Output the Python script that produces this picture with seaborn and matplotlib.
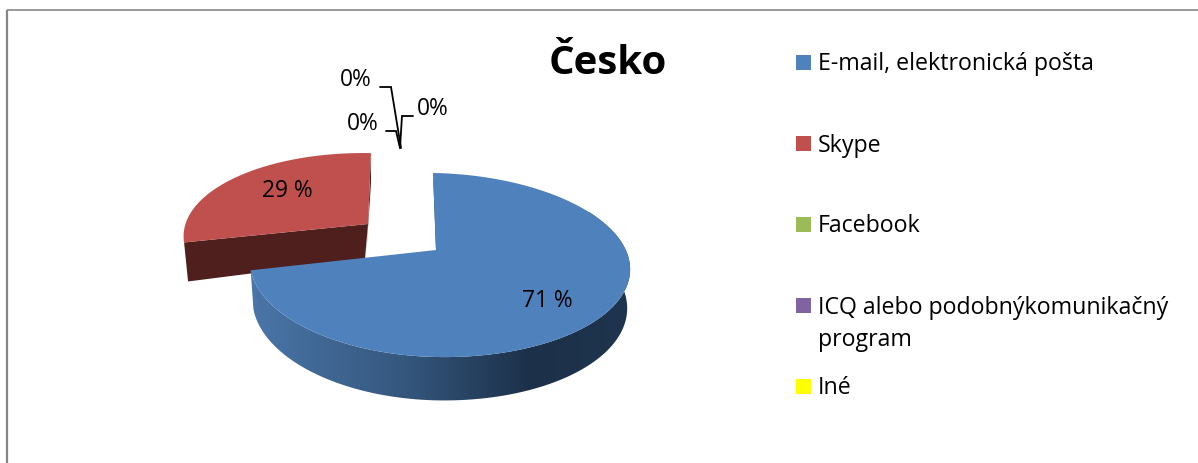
import numpy as np
import seaborn as sns
import matplotlib.pyplot as plt
from matplotlib.patches import Rectangle, Polygon

categories = ["E-mail, elektronická pošta", "Skype", "Facebook",
              "ICQ alebo podobnýkomunikačný\nprogram", "Iné"]
values = [71, 29, 0, 0, 0]
value_labels = ["71 %", "29 %", "0%", "0%", "0%"]
colors = ["#4f81bd", "#c0504d", "#9bbb59", "#8064a2", "#ffff00"]
wall_colors = ["#1f344e", "#4f1f1e", "#4f6229", "#3f3151", "#7f7f00"]
title = "Česko"

sns.set_theme(style="white")
plt.rcParams["font.family"] = ["Open Sans", "DejaVu Sans"]

# axes in picture pixels, y down
fig = plt.figure(figsize=(11.98, 4.63), dpi=100)
ax = fig.add_axes([0, 0, 1, 1])
ax.axis("off")

# perspective of the pie disc
RX = 191
A = 89.6
B = 0.163
TILT = 3


def rim(theta, apex, xscale=1.0, yscale=1.0, skew=0.0, left=1.0):
    # theta clockwise from the top, degrees
    t = np.radians(theta)
    u = np.sin(t)
    v = np.cos(t)
    d = 1 + B * v
    x = apex[0] + xscale * RX * np.where(u < 0, left * u, u) / d + skew * v
    y = apex[1] - yscale * A * v / d + TILT * u
    return x, y


def bottom(x, y, apex):
    return apex[0] + 0.985 * (x - apex[0]), apex[1] + 38 + 1.05 * (y - apex[1])


# wall shading left to right for the big slice
grad_x = np.arange(240, 640)
stops = [250, 400, 530, 630]
grad = np.stack([np.interp(grad_x, stops, [0x4a, 0x36, 0x1c, 0x1f]) / 255,
                 np.interp(grad_x, stops, [0x76, 0x58, 0x30, 0x34]) / 255,
                 np.interp(grad_x, stops, [0xa8, 0x7f, 0x49, 0x4e]) / 255], axis=-1)[np.newaxis, :, :]

ends = np.cumsum(values) / np.sum(values) * 360
starts = np.concatenate([[0], ends[:-1]])
apexes = [(436, 250), (368, 224)]
xscales = [1.0, 0.95]
yscales = [1.0, 0.92]
skews = [-3, 3]
lefts = [0.965, 1.0]

# red slice first, it sits behind the blue one
for i in [1, 0]:
    apex = apexes[i]
    th = np.linspace(starts[i], ends[i], 300)
    xs, ys = rim(th, apex, xscales[i], yscales[i], skews[i], lefts[i])

    if i == 0:
        # outer wall, a gradient image clipped to the wall shape
        front = th >= 60
        bx, by = bottom(xs[front], ys[front], apex)
        wall = Polygon(np.c_[np.r_[xs[front], bx[::-1]], np.r_[ys[front], by[::-1]]],
                       closed=True, facecolor="none", edgecolor="none", transform=ax.transData)
        ax.add_patch(wall)
        im = ax.imshow(grad, extent=(240, 640, 420, 210), aspect="auto", zorder=2, interpolation="bilinear")
        im.set_clip_path(wall)
        # thin dark cut face next to the gap
        ax.fill([xs[0], apex[0], apex[0] + 1, xs[0] + 2], [ys[0], apex[1], apex[1] + 2, ys[0] + 18],
                color=wall_colors[0], lw=0, zorder=2)
    else:
        # cut face at the front of the exploded slice
        x0, y0 = xs[0], ys[0]
        ax.fill([x0, apex[0], apex[0] - 3, x0 + 4], [y0, apex[1], apex[1] + 35, y0 + 39],
                color=wall_colors[1], lw=0, zorder=1)
        ax.fill([apex[0], xs[-1], xs[-1], apex[0] - 2], [apex[1], ys[-1], ys[-1] + 30, apex[1] + 34],
                color=wall_colors[1], lw=0, zorder=1)

    ax.fill(np.r_[apex[0], xs], np.r_[apex[1], ys], color=colors[i], lw=0, zorder=3 if i == 0 else 1.5)

ax.text(547, 301, value_labels[0], ha="center", va="center", fontsize=16.4, color="black", zorder=5)
ax.text(287, 191, value_labels[1], ha="center", va="center", fontsize=16.4, color="black", zorder=5)

# zero slices only have their labels and leader lines
zero_pos = [(356, 80), (363, 124), (433, 109)]
leaders = [([380, 391, 401], [87, 87, 148]),
           ([386, 396, 400], [131, 131, 148]),
           ([413, 402, 400], [116, 116, 148])]
for lab, pos, (lx, ly) in zip(value_labels[2:], zero_pos, leaders):
    ax.text(pos[0], pos[1], lab, ha="center", va="center", fontsize=16.4, color="black")
    ax.plot(lx, ly, color="black", lw=1.3, solid_joinstyle="miter")

ax.text(608, 63, title, ha="center", va="center", fontsize=29, fontweight="bold", color="black")

# legend by hand, rows are evenly spaced even for the two line entry
for i, (name, col) in enumerate(zip(categories, colors)):
    yc = 62.5 + 81 * i
    ax.add_patch(Rectangle((796, yc - 7.5), 15, 15, facecolor=col, edgecolor="none"))
    if "\n" in name:
        first, second = name.split("\n")
        ax.text(818, yc + 2, first, ha="left", va="center", fontsize=16.7, color="black")
        ax.text(818, yc + 35, second, ha="left", va="center", fontsize=16.7, color="black")
    else:
        ax.text(818, yc + 2, name, ha="left", va="center", fontsize=16.7, color="black")

# chart frame, only top and left show in the crop
ax.plot([7, 7], [463, 9.5], color="#868686", lw=1.6, solid_capstyle="butt")
ax.plot([7, 1198], [9.5, 9.5], color="#868686", lw=1.2, solid_capstyle="butt")

ax.set_xlim(0, 1198)
ax.set_ylim(463, 0)

fig.savefig("out.png", dpi=100)
